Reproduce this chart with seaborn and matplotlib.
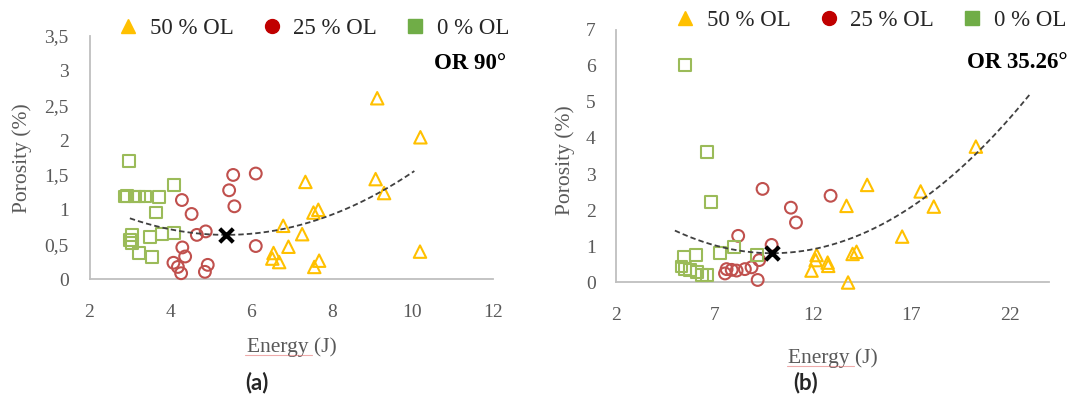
import numpy as np
import matplotlib
matplotlib.use("Agg")
import matplotlib.pyplot as plt
from matplotlib.lines import Line2D
from matplotlib.ticker import FuncFormatter
import seaborn as sns

# ---------------- data: panel (a), OR 90° ----------------
a_ol50_energy = [9.13, 10.20, 7.35, 9.09, 9.30, 7.67, 7.55, 6.80, 7.27, 6.93,
                 6.56, 6.53, 6.70, 7.69, 7.57, 10.19]
a_ol50_porosity = [2.60, 2.04, 1.40, 1.44, 1.24, 1.00, 0.96, 0.77, 0.65, 0.47,
                   0.38, 0.30, 0.25, 0.27, 0.18, 0.40]
a_ol25_energy = [5.56, 6.12, 5.46, 5.59, 4.29, 4.53, 4.66, 4.88, 4.30, 4.37,
                 4.08, 4.19, 4.27, 4.93, 4.86, 6.12]
a_ol25_porosity = [1.50, 1.52, 1.28, 1.05, 1.14, 0.94, 0.64, 0.69, 0.46, 0.33,
                   0.24, 0.18, 0.09, 0.21, 0.11, 0.48]
a_ol0_energy = [2.98, 2.88, 2.92, 3.13, 3.23, 3.38, 3.72, 4.09, 3.65, 3.05,
                3.00, 3.05, 3.23, 3.54, 3.50, 3.79, 4.09]
a_ol0_porosity = [1.70, 1.19, 1.20, 1.19, 1.19, 1.19, 1.18, 1.36, 0.96, 0.64,
                  0.57, 0.52, 0.38, 0.32, 0.61, 0.65, 0.67]
# quadratic trend: vertex (energy, porosity), curvature, drawn energy span
a_trend_vertex = [5.38, 0.64]
a_trend_curv = 0.042
a_trend_span = [3.0, 10.05]

# ---------------- data: panel (b), OR 35.26° ----------------
b_ol50_energy = [14.75, 13.70, 17.47, 18.14, 20.28, 16.53, 12.18, 12.13, 12.74,
                 12.77, 11.92, 14.21, 14.01, 13.78]
b_ol50_porosity = [2.70, 2.12, 2.52, 2.10, 3.76, 1.27, 0.76, 0.62, 0.55,
                   0.46, 0.33, 0.85, 0.79, 0.00]
b_ol25_energy = [9.43, 8.19, 9.89, 9.26, 9.18, 7.52, 7.60, 7.86, 8.11, 8.53,
                 8.87, 10.87, 11.13, 12.89]
b_ol25_porosity = [2.59, 1.29, 1.04, 0.62, 0.07, 0.25, 0.37, 0.35, 0.33, 0.37,
                   0.42, 2.07, 1.66, 2.40]
b_ol0_energy = [5.48, 6.62, 6.79, 7.97, 7.26, 9.16, 5.43, 6.03, 5.31, 5.48,
                5.74, 6.11, 6.33, 6.62]
b_ol0_porosity = [6.01, 3.61, 2.22, 0.99, 0.81, 0.76, 0.71, 0.76, 0.44, 0.37,
                  0.35, 0.30, 0.21, 0.21]
b_trend_vertex = [9.92, 0.81]
b_trend_curv = 0.0256
b_trend_span = [4.97, 23.0]

series_labels = ["50 % OL", "25 % OL", "0 % OL"]
a_xticks = [2, 4, 6, 8, 10, 12]
a_yticks = [0, 0.5, 1, 1.5, 2, 2.5, 3, 3.5]
b_xticks = [2, 7, 12, 17, 22]
b_yticks = [0, 1, 2, 3, 4, 5, 6, 7]

# ---------------- style ----------------
sns.set_theme(style="white")
plt.rcParams["font.family"] = ["Liberation Serif", "DejaVu Serif"]

edge_colors = ["#FFC000", "#C0504D", "#9BBB59"]
legend_colors = ["#FFC000", "#C00000", "#70AD47"]
markers = ["^", "o", "s"]
marker_sizes = [80, 72, 72]
tick_color = "#595959"
spine_color = "#BFBFBF"

fig = plt.figure(figsize=(10.81, 3.99), dpi=100)
ax_a = fig.add_axes([0.0828, 0.2995, 0.3733, 0.6115])
ax_b = fig.add_axes([0.5703, 0.2920, 0.4001, 0.6340])


def comma_fmt(v, _pos):
    return f"{v:g}".replace(".", ",")


def draw_panel(ax, series, vertex, curv, span, xlim, ylim, xticks, yticks,
               tag, tag_xy, legend_xy):
    for (ex, py), col, mk, sz in zip(series, edge_colors, markers, marker_sizes):
        sns.scatterplot(x=ex, y=py, ax=ax, marker=mk, s=sz,
                        facecolors="none", edgecolor=col, linewidth=1.5,
                        clip_on=False, zorder=3, legend=False)

    xs = np.linspace(span[0], span[1], 200)
    ys = curv * (xs - vertex[0]) ** 2 + vertex[1]
    sns.lineplot(x=xs, y=ys, ax=ax, color="#404040", linewidth=1.3,
                 linestyle=(0, (3, 1.7)), sort=False, zorder=4)
    sns.scatterplot(x=[vertex[0]], y=[vertex[1]], ax=ax, marker="x", s=95,
                    color="black", linewidth=3.0, zorder=5, legend=False)

    ax.set_xlim(*xlim)
    ax.set_ylim(*ylim)
    ax.set_xticks(xticks)
    ax.set_yticks(yticks)
    ax.yaxis.set_major_formatter(FuncFormatter(comma_fmt))
    ax.tick_params(axis="both", length=0, labelsize=14,
                   labelcolor=tick_color)
    ax.tick_params(axis="x", pad=18)
    ax.tick_params(axis="y", pad=15)
    sns.despine(ax=ax)
    for side in ("left", "bottom"):
        ax.spines[side].set_color(spine_color)
        ax.spines[side].set_linewidth(1.3)

    ax.set_xlabel("Energy (J)", fontsize=15.5, color=tick_color)
    ax.set_ylabel("Porosity (%)", fontsize=15.5, color=tick_color)

    ax.text(tag_xy[0], tag_xy[1], tag, transform=fig.transFigure,
            ha="right", va="center", fontsize=16.5, fontweight="bold",
            color="black")

    handles = [Line2D([], [], marker=mk, color=c, linestyle="", markersize=10)
               for mk, c in zip(markers, legend_colors)]
    ax.legend(handles, series_labels, ncol=3, loc="center",
              bbox_to_anchor=legend_xy, bbox_transform=fig.transFigure,
              frameon=False, fontsize=16.5, handlelength=0.8,
              handletextpad=0.55, columnspacing=1.25, borderpad=0)


draw_panel(ax_a,
           [(a_ol50_energy, a_ol50_porosity), (a_ol25_energy, a_ol25_porosity),
            (a_ol0_energy, a_ol0_porosity)],
           a_trend_vertex, a_trend_curv, a_trend_span,
           (2, 12), (0, 3.5), a_xticks, a_yticks,
           "OR 90°", (506 / 1081, 1 - 63.7 / 399), (314 / 1081, 1 - 28.6 / 399))
draw_panel(ax_b,
           [(b_ol50_energy, b_ol50_porosity), (b_ol25_energy, b_ol25_porosity),
            (b_ol0_energy, b_ol0_porosity)],
           b_trend_vertex, b_trend_curv, b_trend_span,
           (2, 24), (0, 7), b_xticks, b_yticks,
           "OR 35.26°", (1068 / 1081, 1 - 62.8 / 399),
           (871 / 1081, 1 - 20.7 / 399))

# axis-title placement in figure pixels
ax_a.xaxis.set_label_coords(291.5 / 1081, 1 - 347 / 399,
                            transform=fig.transFigure)
ax_a.yaxis.set_label_coords(21.7 / 1081, 1 - 158 / 399,
                            transform=fig.transFigure)
ax_b.xaxis.set_label_coords(833 / 1081, 1 - 357.7 / 399,
                            transform=fig.transFigure)
ax_b.yaxis.set_label_coords(565 / 1081, 1 - 160 / 399,
                            transform=fig.transFigure)
for axis in (ax_a.xaxis, ax_b.xaxis, ax_a.yaxis, ax_b.yaxis):
    axis.label.set_verticalalignment("center")

# spell-check squiggle under "Energy"
for x0, x1, y in [(245, 311.6, 355), (786.7, 854, 366)]:
    fig.add_artist(Line2D([x0 / 1081, x1 / 1081], [1 - y / 399, 1 - y / 399],
                          transform=fig.transFigure, color="#E06666",
                          alpha=0.55, linewidth=0.8))

# panel letters
fig.text(256.5 / 1081, 1 - 383 / 399, "(a)", ha="center", va="center",
         fontsize=16, fontweight="bold", family=["Lato", "DejaVu Sans"])
fig.text(805.7 / 1081, 1 - 383 / 399, "(b)", ha="center", va="center",
         fontsize=16, fontweight="bold", family=["Lato", "DejaVu Sans"])

fig.savefig("out.png", dpi=100, facecolor="white")
